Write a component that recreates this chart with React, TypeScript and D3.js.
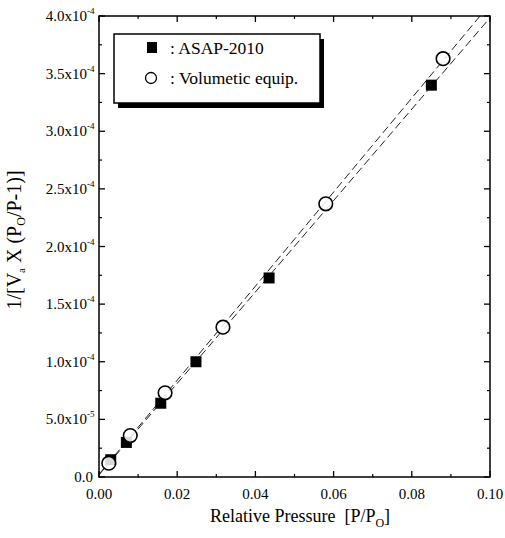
import React from "react";
import * as d3 from "d3";

const asapX = [0.003, 0.007, 0.0158, 0.0248, 0.0435, 0.085];
const asapY = [1.5e-5, 3.0e-5, 6.4e-5, 1.0e-4, 1.727e-4, 3.4e-4];
const volX = [0.0025, 0.008, 0.0169, 0.0317, 0.058, 0.088];
const volY = [1.2e-5, 3.6e-5, 7.3e-5, 1.3e-4, 2.37e-4, 3.63e-4];
const xTicks = [0, 0.02, 0.04, 0.06, 0.08, 0.1];
const xTickLabels = ["0.00", "0.02", "0.04", "0.06", "0.08", "0.10"];
const yTicks = [0, 5e-5, 1e-4, 1.5e-4, 2e-4, 2.5e-4, 3e-4, 3.5e-4, 4e-4];
const yMant = ["0.0", "5.0", "1.0", "1.5", "2.0", "2.5", "3.0", "3.5", "4.0"];
const yExp = ["", "-5", "-4", "-4", "-4", "-4", "-4", "-4", "-4"];

const W = 505, H = 538;
const L = 99, R = 490, T = 16, B = 477;
const FONT = "'Liberation Serif', 'Times New Roman', serif";

function fit(xs: number[], ys: number[]) {
  const mx = d3.mean(xs)!, my = d3.mean(ys)!;
  let sxy = 0, sxx = 0;
  xs.forEach((x, i) => { sxy += (x - mx) * (ys[i] - my); sxx += (x - mx) * (x - mx); });
  const m = sxy / sxx;
  return { m, b: my - m * mx };
}

export default function App() {
  const x = d3.scaleLinear().domain([0, 0.1]).range([L, R]);
  const y = d3.scaleLinear().domain([0, 4e-4]).range([B, T]);
  const xMinor = [0.01, 0.03, 0.05, 0.07, 0.09];
  const yMinor = d3.range(0, 8).map((i) => i * 5e-5 + 2.5e-5);

  const lineFor = (xs: number[], ys: number[]) => {
    const { m, b } = fit(xs, ys);
    const x0 = 0;
    let x1 = 0.1;
    if (m * x1 + b > 4e-4) x1 = (4e-4 - b) / m;
    const pts: [number, number][] = [[x0, m * x0 + b], [x1, m * x1 + b]];
    return d3.line<[number, number]>().x((d) => x(d[0])).y((d) => y(d[1]))(pts)!;
  };

  const major = 6, minor = 3;
  return (
    <svg width={W} height={H} style={{ position: "absolute", left: 0, top: 0, background: "#fff", fontFamily: FONT }}>
      <rect x={0} y={0} width={W} height={H} fill="#fff" />
      <path d={lineFor(volX, volY)} stroke="#222" strokeWidth={1} fill="none" strokeDasharray="8,4" />
      <path d={lineFor(asapX, asapY)} stroke="#222" strokeWidth={1} fill="none" strokeDasharray="8,4" />
      <rect x={L} y={T} width={R - L} height={B - T} fill="none" stroke="#000" strokeWidth={1.5} />
      {xTicks.map((t, i) => (
        <g key={"xt" + i}>
          <line x1={x(t)} x2={x(t)} y1={B} y2={B - major} stroke="#000" strokeWidth={1.3} />
          <line x1={x(t)} x2={x(t)} y1={T} y2={T + major} stroke="#000" strokeWidth={1.3} />
          <text x={x(t)} y={B + 22} textAnchor="middle" fontSize={15}>{xTickLabels[i]}</text>
        </g>
      ))}
      {xMinor.map((t, i) => (
        <g key={"xm" + i}>
          <line x1={x(t)} x2={x(t)} y1={B} y2={B - minor} stroke="#000" strokeWidth={1.2} />
          <line x1={x(t)} x2={x(t)} y1={T} y2={T + minor} stroke="#000" strokeWidth={1.2} />
        </g>
      ))}
      {yTicks.map((t, i) => (
        <g key={"yt" + i}>
          <line x1={L} x2={L + major} y1={y(t)} y2={y(t)} stroke="#000" strokeWidth={1.3} />
          <line x1={R} x2={R - major} y1={y(t)} y2={y(t)} stroke="#000" strokeWidth={1.3} />
          <text x={yExp[i] ? 87 : 93} y={y(t) + 5} textAnchor="end" fontSize={15}>
            {yMant[i]}{yExp[i] ? "x10" : ""}
          </text>
          {yExp[i] && (
            <text x={87} y={y(t) - 2} fontSize={9}>{yExp[i]}</text>
          )}
        </g>
      ))}
      {yMinor.map((t, i) => (
        <g key={"ym" + i}>
          <line x1={L} x2={L + minor} y1={y(t)} y2={y(t)} stroke="#000" strokeWidth={1.2} />
          <line x1={R} x2={R - minor} y1={y(t)} y2={y(t)} stroke="#000" strokeWidth={1.2} />
        </g>
      ))}
      {asapX.map((v, i) => (
        <rect key={"a" + i} x={x(v) - 5.5} y={y(asapY[i]) - 5.5} width={11} height={11} fill="#000" />
      ))}
      {volX.map((v, i) => (
        <circle key={"v" + i} cx={x(v)} cy={y(volY[i])} r={6.8} fill="#fff" fillOpacity={0.85} stroke="#000" strokeWidth={1.6} />
      ))}
      <rect x={118} y={39} width={206} height={69} fill="#000" />
      <rect x={114} y={34} width={206} height={69} fill="#fff" stroke="#000" strokeWidth={1.5} />
      <rect x={147} y={42} width={10} height={11} fill="#000" />
      <text x={170} y={54} fontSize={17.5}>: ASAP-2010</text>
      <circle cx={151} cy={78} r={5.5} fill="#fff" stroke="#000" strokeWidth={1.3} />
      <text x={170} y={84} fontSize={17.5}>: Volumetic equip.</text>
      <text x={300} y={522} textAnchor="middle" fontSize={18}>
        {"Relative Pressure\u00a0\u00a0[P/P"}<tspan fontSize={12} dy={5}>O</tspan><tspan dy={-5}>]</tspan>
      </text>
      <text transform={`translate(21, 240) rotate(-90)`} textAnchor="middle" fontSize={20}>
        1/[V<tspan fontSize={11} dy={4}>a</tspan><tspan dy={-4}> X (P</tspan><tspan fontSize={12} dy={4}>O</tspan><tspan dy={-4}>/P-1)]</tspan>
      </text>
    </svg>
  );
}
